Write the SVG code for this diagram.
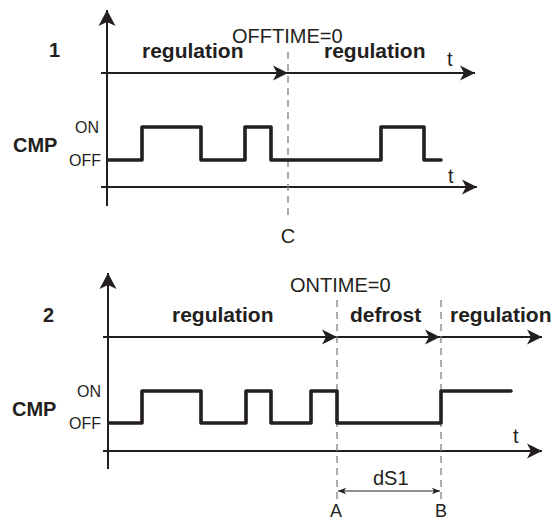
<svg xmlns="http://www.w3.org/2000/svg" width="560" height="522" viewBox="0 0 560 522">
<style>
.ax{stroke:#231f20;stroke-width:2;fill:none}
.wf{stroke:#231f20;stroke-width:3.6;fill:none;stroke-linejoin:round;stroke-linecap:round}
.dash{stroke:#808080;stroke-width:1.3;fill:none;stroke-dasharray:7 5}
.thin{stroke:#231f20;stroke-width:1.2;fill:none}
text{font-family:"Liberation Sans",Arial,sans-serif;fill:#231f20}
.b{font-weight:bold;font-size:21px}
.r{font-size:20px}
.s{font-size:16px}
.n{font-weight:bold;font-size:20px}
.ab{font-size:18px}
</style>
<defs>
<marker id="arr" viewBox="-16 -9 17 18" refX="0" refY="0" markerWidth="17" markerHeight="18" orient="auto" markerUnits="userSpaceOnUse">
<path d="M0,0 L-15,-7.5 L-11,0 L-15,7.5 Z" fill="#231f20"/>
</marker>
<marker id="arrV" viewBox="-17 -10 18 20" refX="0" refY="0" markerWidth="18" markerHeight="20" orient="auto" markerUnits="userSpaceOnUse">
<path d="M0,0 L-16,-8.5 L-12,0 L-16,8.5 Z" fill="#231f20"/>
</marker>
<marker id="sm" viewBox="-9 -4 10 8" refX="0" refY="0" markerWidth="10" markerHeight="8" orient="auto-start-reverse" markerUnits="userSpaceOnUse">
<path d="M0,0 L-8,-3.2 L-6,0 L-8,3.2 Z" fill="#231f20"/>
</marker>
</defs>

<g id="diagram1">
  <g id="d1-axes" class="connectors">
    <line class="ax" x1="107" y1="206" x2="107" y2="10" marker-end="url(#arrV)"/>
    <line class="ax" x1="101" y1="73" x2="288" y2="73" marker-end="url(#arr)"/>
    <line class="ax" x1="288" y1="73" x2="475" y2="73" marker-end="url(#arr)"/>
    <line class="ax" x1="101" y1="187" x2="477" y2="187" marker-end="url(#arr)"/>
    <line class="dash" x1="288" y1="52" x2="288" y2="216"/>
  </g>
  <g id="d1-wave">
    <polyline class="wf" points="108,160 142,160 142,127 201,127 201,160 245,160 245,127 271,127 271,160 381,160 381,127 424,127 424,160 441,160"/>
  </g>
  <g id="d1-labels">
    <text class="n" x="49" y="57">1</text>
    <text class="b" x="142" y="58">regulation</text>
    <text class="r" x="232" y="43">OFFTIME=0</text>
    <text class="b" x="324" y="58">regulation</text>
    <text class="r" x="447" y="66">t</text>
    <text class="s" x="75" y="133">ON</text>
    <text class="s" x="69" y="166">OFF</text>
    <text class="n" x="13" y="152">CMP</text>
    <text class="r" x="448" y="183">t</text>
    <text class="r" x="288" y="243" text-anchor="middle">C</text>
  </g>
</g>

<g id="diagram2">
  <g id="d2-axes" class="connectors">
    <line class="ax" x1="108" y1="469" x2="108" y2="273" marker-end="url(#arrV)"/>
    <line class="ax" x1="103" y1="337" x2="337" y2="337" marker-end="url(#arr)"/>
    <line class="ax" x1="337" y1="337" x2="440" y2="337" marker-end="url(#arr)"/>
    <line class="ax" x1="440" y1="337" x2="542" y2="337" marker-end="url(#arr)"/>
    <line class="ax" x1="103" y1="451" x2="542" y2="451" marker-end="url(#arr)"/>
    <line class="dash" x1="337" y1="300" x2="337" y2="502"/>
    <line class="dash" x1="441" y1="300" x2="441" y2="502"/>
    <line class="thin" x1="338" y1="491" x2="440" y2="491" marker-start="url(#sm)" marker-end="url(#sm)"/>
  </g>
  <g id="d2-wave">
    <polyline class="wf" points="109,423 142,423 142,391 201,391 201,423 246,423 246,391 271,391 271,423 311,423 311,391 337,391 337,423 441,423 441,391 511,391"/>
  </g>
  <g id="d2-labels">
    <text class="n" x="43" y="322">2</text>
    <text class="b" x="172" y="322">regulation</text>
    <text class="r" x="290" y="292">ONTIME=0</text>
    <text class="b" x="350" y="322">defrost</text>
    <text class="b" x="450" y="322">regulation</text>
    <text class="s" x="77" y="397">ON</text>
    <text class="s" x="69" y="429">OFF</text>
    <text class="n" x="12" y="416">CMP</text>
    <text class="r" x="513" y="443">t</text>
    <text class="r" x="373" y="485">dS1</text>
    <text class="ab" x="336" y="517" text-anchor="middle">A</text>
    <text class="ab" x="441" y="517" text-anchor="middle">B</text>
  </g>
</g>
</svg>
